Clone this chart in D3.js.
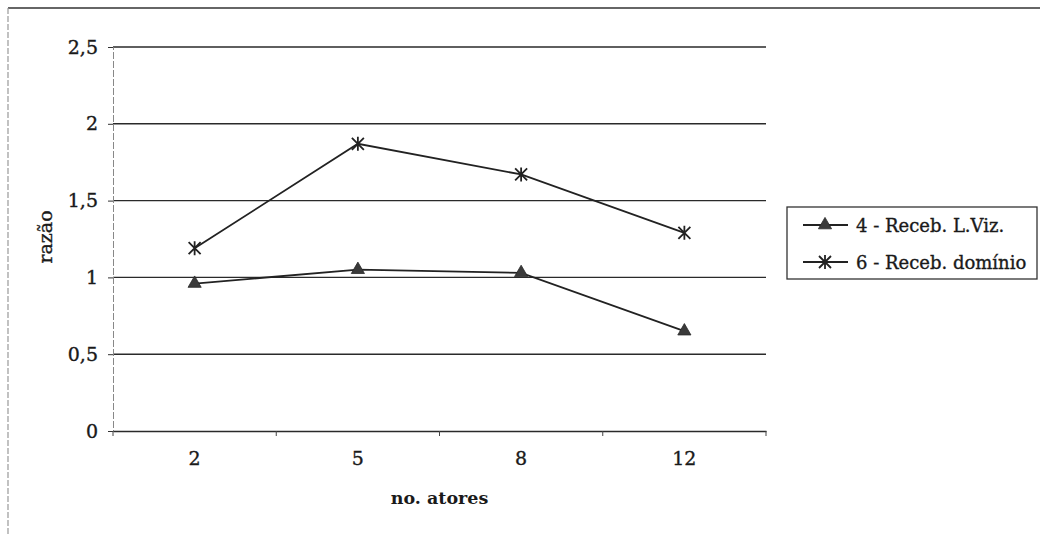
<!DOCTYPE html>
<html>
<head>
<meta charset="utf-8">
<script src="https://cdn.jsdelivr.net/npm/d3@7"></script>
<style>
  body { margin: 0; background: #fff; }
  svg text { font-family: "DejaVu Serif", serif; fill: #1a1a1a; stroke: #1a1a1a; stroke-width: 0.35px; }
</style>
</head>
<body>
<div id="chart"></div>
<script>
// categories and series
const categories = ['2', '5', '8', '12'];
const seriesNames = ['4 - Receb. L.Viz.', '6 - Receb. domínio'];
const recebLViz = [0.96, 1.05, 1.03, 0.65];
const recebDominio = [1.19, 1.87, 1.67, 1.29];
const yTicks = [0, 0.5, 1, 1.5, 2, 2.5];

const width = 1040, height = 534;
const plot = {left: 113, right: 766, top: 47, bottom: 431};

const svg = d3.select("#chart")
    .append("svg")
    .attr("width", width)
    .attr("height", height);

// outer page frame (scanned look)
svg.append("line")
    .attr("x1", 8).attr("x2", width).attr("y1", 8).attr("y2", 8)
    .attr("stroke", "#333").attr("stroke-width", 1.5);
svg.append("line")
    .attr("x1", 8).attr("x2", 8).attr("y1", 8).attr("y2", height)
    .attr("stroke", "#999").attr("stroke-width", 1.2)
    .attr("stroke-dasharray", "6,2");

const x = d3.scaleBand()
    .domain(categories)
    .range([plot.left, plot.right]);

const y = d3.scaleLinear()
    .domain([0, 2.5])
    .range([plot.bottom, plot.top]);

const ptBR = d3.formatLocale({decimal: ",", thousands: ".", grouping: [3], currency: ["R$", ""]});
const fmt = ptBR.format("~g");

// gridlines
svg.append("g")
    .selectAll("line")
    .data(yTicks.filter(d => d > 0))
    .enter().append("line")
    .attr("x1", plot.left).attr("x2", plot.right)
    .attr("y1", d => y(d)).attr("y2", d => y(d))
    .attr("stroke", "#2a2a2a").attr("stroke-width", 1.4);

// y axis
const yAxis = svg.append("g")
    .attr("transform", `translate(${plot.left},0)`)
    .call(d3.axisLeft(y).tickValues(yTicks).tickFormat(fmt).tickSize(5).tickPadding(10));
yAxis.select(".domain").attr("stroke", "#888").attr("stroke-dasharray", "7,2");
yAxis.selectAll(".tick line").attr("stroke", "#333");
yAxis.selectAll("text").style("font-size", "19px").attr("fill", "#1a1a1a");

// x axis
const xAxis = svg.append("g")
    .attr("transform", `translate(0,${plot.bottom})`)
    .call(d3.axisBottom(x).tickSize(0).tickPadding(21).tickSizeOuter(0));
xAxis.select(".domain").attr("stroke", "#2a2a2a").attr("stroke-width", 1.4);
xAxis.selectAll("text").style("font-size", "19px").attr("fill", "#1a1a1a");

// band boundary ticks on x axis
svg.append("g")
    .selectAll("line")
    .data(categories.map(c => x(c)).concat([x(categories[categories.length - 1]) + x.bandwidth()]))
    .enter().append("line")
    .attr("x1", d => d).attr("x2", d => d)
    .attr("y1", plot.bottom).attr("y2", plot.bottom + 5)
    .attr("stroke", "#444").attr("stroke-width", 1);

// axis titles
svg.append("text")
    .attr("x", (plot.left + plot.right) / 2)
    .attr("y", 504)
    .attr("text-anchor", "middle")
    .style("font-size", "17.5px")
    .style("font-weight", "bold")
    .style("stroke-width", "0")
    .text("no. atores");

svg.append("text")
    .attr("transform", `translate(52,${(plot.top + plot.bottom) / 2 - 2}) rotate(-90)`)
    .attr("text-anchor", "middle")
    .style("font-size", "19px")
    .text("razão");

// series
const series = [
    {name: seriesNames[0], values: recebLViz, marker: "triangle"},
    {name: seriesNames[1], values: recebDominio, marker: "star"}
];

const line = d3.line()
    .x((d, i) => x(categories[i]) + x.bandwidth() / 2)
    .y(d => y(d));

function drawMarker(g, type, cx, cy) {
    if (type === "triangle") {
        g.append("path")
            .attr("d", d3.symbol().type(d3.symbolTriangle).size(75)())
            .attr("transform", `translate(${cx},${cy})`)
            .attr("fill", "#3a3a3a")
            .attr("stroke", "#2a2a2a").attr("stroke-width", 0.8);
    } else {
        const r = 6;
        const p = `M${-r},${-r}L${r},${r}M${-r},${r}L${r},${-r}M0,${-r - 1}L0,${r + 1}`;
        g.append("path")
            .attr("d", p)
            .attr("transform", `translate(${cx},${cy})`)
            .attr("fill", "none")
            .attr("stroke", "#222").attr("stroke-width", 1.8);
    }
}

series.forEach(s => {
    svg.append("path")
        .datum(s.values)
        .attr("d", line)
        .attr("fill", "none")
        .attr("stroke", "#222")
        .attr("stroke-width", 1.8);
    const mg = svg.append("g");
    s.values.forEach((v, i) => {
        drawMarker(mg, s.marker, x(categories[i]) + x.bandwidth() / 2, y(v));
    });
});

// legend
const legend = svg.append("g").attr("transform", "translate(787,207)");
legend.append("rect")
    .attr("width", 250).attr("height", 72)
    .attr("fill", "#fff")
    .attr("stroke", "#333").attr("stroke-width", 1.3);

series.forEach((s, i) => {
    const row = legend.append("g").attr("transform", `translate(0,${18 + i * 37})`);
    row.append("line")
        .attr("x1", 16).attr("x2", 61).attr("y1", 0).attr("y2", 0)
        .attr("stroke", "#222").attr("stroke-width", 1.8);
    drawMarker(row, s.marker, 38, 0);
    row.append("text")
        .attr("x", 69).attr("y", 6.5)
        .style("font-size", "18px")
        .text(s.name);
});
</script>
</body>
</html>
